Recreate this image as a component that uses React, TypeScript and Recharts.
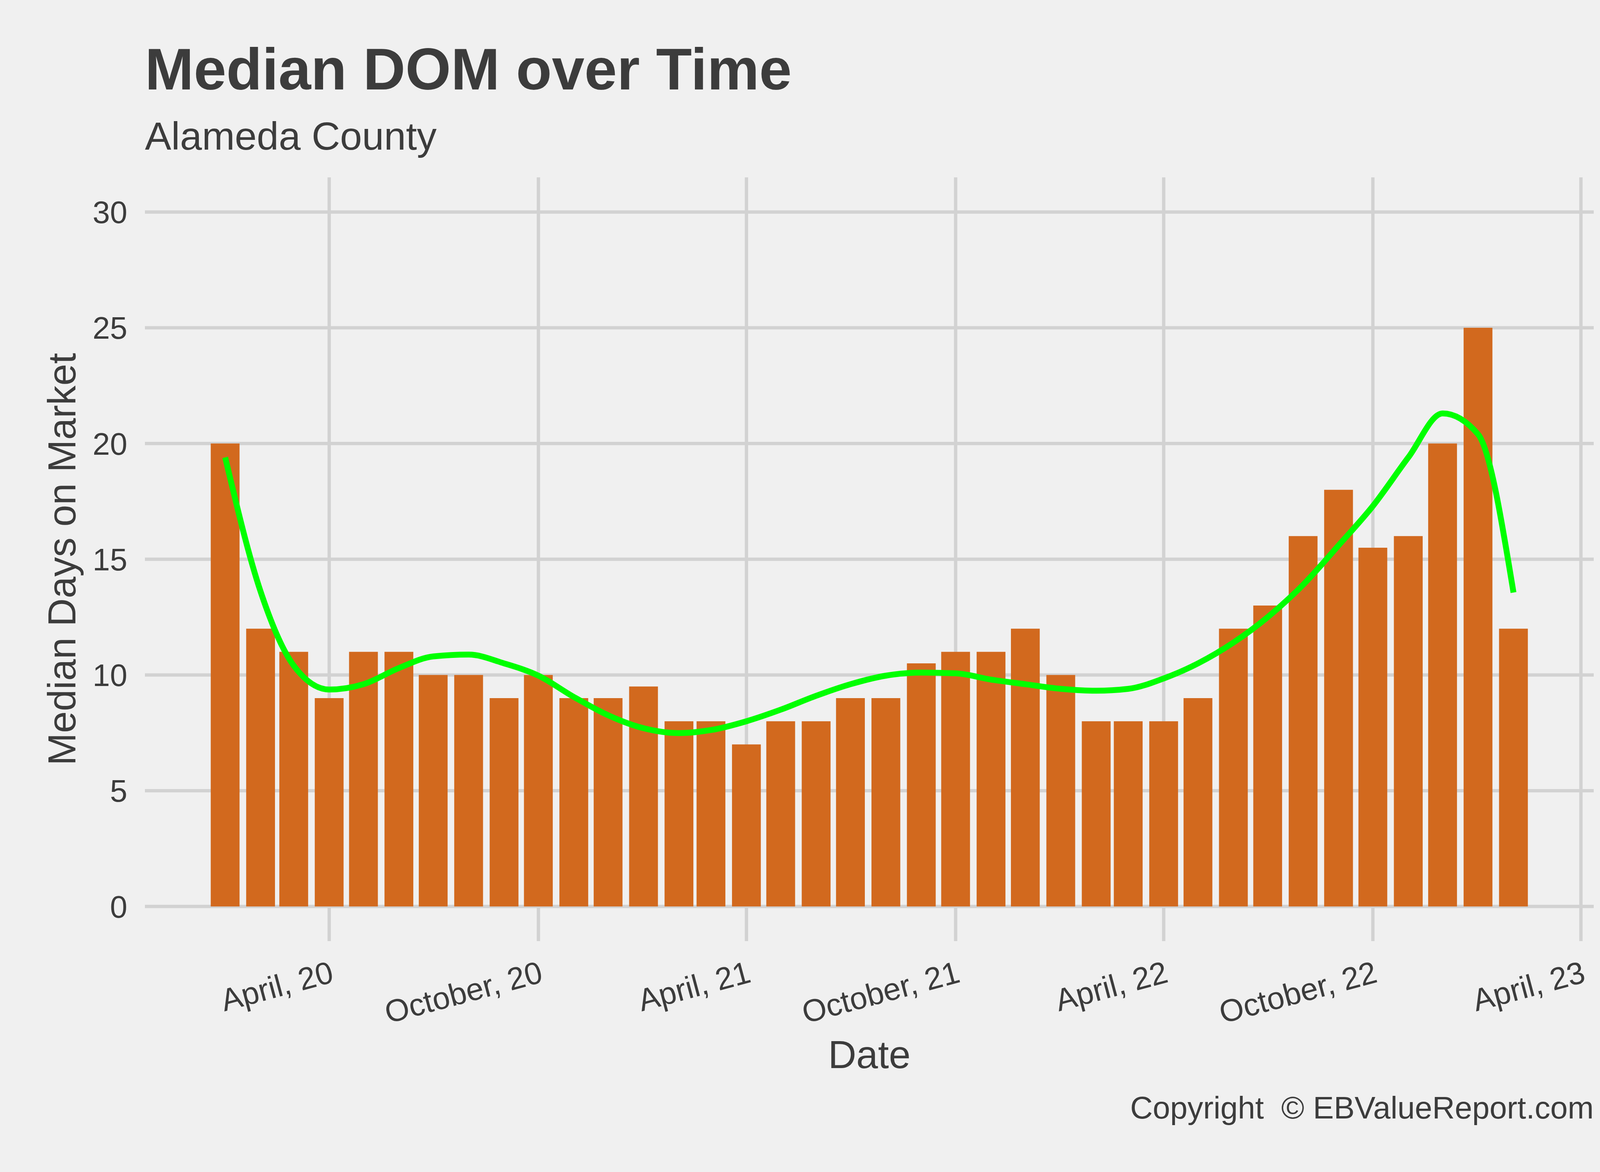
import React from "react";
import {ComposedChart, Bar, Line, XAxis, YAxis, CartesianGrid} from "recharts";

// monthly data, bars sit on the first day of each month
const months = [
    "2020-01", "2020-02", "2020-03", "2020-04", "2020-05", "2020-06", "2020-07", "2020-08", "2020-09", "2020-10", "2020-11", "2020-12",
    "2021-01", "2021-02", "2021-03", "2021-04", "2021-05", "2021-06", "2021-07", "2021-08", "2021-09", "2021-10", "2021-11", "2021-12",
    "2022-01", "2022-02", "2022-03", "2022-04", "2022-05", "2022-06", "2022-07", "2022-08", "2022-09", "2022-10", "2022-11", "2022-12",
    "2023-01", "2023-02",
];
const medianDom = [
    20, 12, 11, 9, 11, 11, 10, 10, 9, 10, 9, 9,
    9.5, 8, 8, 7, 8, 8, 9, 9, 10.5, 11, 11, 12,
    10, 8, 8, 8, 9, 12, 13, 16, 18, 15.5, 16, 20,
    25, 12,
];
// loess trend at each month
const smoothDom = [
    19.4, 13.6, 10.4, 9.37, 9.6, 10.3, 10.8, 10.88, 10.5, 9.97, 9.05, 8.26,
    7.7, 7.49, 7.62, 8.0, 8.5, 9.1, 9.6, 9.97, 10.1, 10.07, 9.8, 9.6,
    9.4, 9.32, 9.4, 9.85, 10.5, 11.4, 12.5, 13.9, 15.6, 17.3, 19.4, 21.3,
    20.4, 13.56,
];
const xTickMonths = ["2020-04", "2020-10", "2021-04", "2021-10", "2022-04", "2022-10", "2023-04"];
const xTickLabels = ["April, 20", "October, 20", "April, 21", "October, 21", "April, 22", "October, 22", "April, 23"];
const yTicks = [0, 5, 10, 15, 20, 25, 30];

const FONT = "'Liberation Sans', Arial, Helvetica, sans-serif";
const TEXT = "#3C3C3C";
const BG = "#F0F0F0";
const GRID = "#D2D2D2";

const W = 4200;
const H = 3000;
const M = {top: 454, right: 120, bottom: 0, left: 0};
const Y_AXIS_W = 371;
const X_AXIS_H = 591;

const dayOf = (ym: string) => {
    const [y, m] = ym.split("-").map(Number);
    return Date.UTC(y, m - 1, 1) / 86400000;
};

const data = months.map((m, i) => ({t: dayOf(m), dom: medianDom[i], trend: smoothDom[i]}));
const xTicks = xTickMonths.map(dayOf);

// bar width like ggplot: 0.9 of the shortest gap (28 days)
const barDays = 0.9 * 28;
const lo = data[0].t - barDays / 2;
const hi = data[data.length - 1].t + barDays / 2;
const pad = (hi - lo) * 0.05;
const xDomain = [lo - pad, hi + pad];
const yDomain = [-1.5, 31.5];
const plotW = W - M.left - M.right - Y_AXIS_W;
const barPx = barDays * plotW / (xDomain[1] - xDomain[0]);

const XTick = ({x, y, payload}: any) => {
    const i = xTicks.indexOf(payload.value);
    const ax = x + 15;
    const ay = y + 104;
    return (
        <text x={ax} y={ay} transform={`rotate(-15, ${ax}, ${ay})`} textAnchor="end"
              fontSize={80} fill={TEXT} fontFamily={FONT}>
            {xTickLabels[i]}
        </text>
    );
};

const YTitle = ({viewBox}: any) => {
    const cy = viewBox.y + viewBox.height / 2;
    return (
        <text x={193} y={cy} transform={`rotate(-90, 193, ${cy})`} textAnchor="middle"
              fontSize={100} fill={TEXT} fontFamily={FONT}>
            Median Days on Market
        </text>
    );
};

const XTitle = ({viewBox}: any) => (
    <text x={viewBox.x + viewBox.width / 2} y={2734} textAnchor="middle"
          fontSize={100} fill={TEXT} fontFamily={FONT}>
        Date
    </text>
);

// map a value through the axis scale (recharts 3 may wrap the d3 scale)
const toPx = (axis: any, v: number, fallback: number) => {
    const s = axis && axis.scale;
    if (typeof s === "function") return s(v);
    if (s && typeof s.map === "function") return s.map(v);
    return fallback;
};

// grid only at the tick values, not at the panel edges
const hLines = ({yAxis, offset}: any) => yTicks.map(v =>
    toPx(yAxis, v, offset.top + offset.height * (yDomain[1] - v) / (yDomain[1] - yDomain[0])));
const vLines = ({xAxis, offset}: any) => xTicks.map(v =>
    toPx(xAxis, v, offset.left + offset.width * (v - xDomain[0]) / (xDomain[1] - xDomain[0])));

export default function App() {
    return (
        <div style={{position: "relative", width: W, height: H, background: BG}}>
            <style>{"html, body { margin: 0; padding: 0; background: " + BG + "; }"}</style>
            <ComposedChart width={W} height={H} data={data} margin={M}>
                <CartesianGrid stroke={GRID} strokeWidth={8.5}
                               horizontalCoordinatesGenerator={hLines}
                               verticalCoordinatesGenerator={vLines}/>
                <XAxis type="number" dataKey="t" domain={xDomain} ticks={xTicks} interval={0}
                       axisLine={false} tickLine={false} tickSize={0} tickMargin={0}
                       height={X_AXIS_H} tick={<XTick/>} label={<XTitle/>} allowDataOverflow/>
                <YAxis type="number" domain={yDomain} ticks={yTicks} interval={0}
                       axisLine={false} tickLine={false} tickSize={0} tickMargin={45} width={Y_AXIS_W}
                       tick={{fontSize: 80, fill: TEXT, fontFamily: FONT}} label={<YTitle/>} allowDataOverflow/>
                <Bar dataKey="dom" fill="#D2691E" barSize={barPx} isAnimationActive={false}/>
                <Line dataKey="trend" type="monotone" stroke="#00FF00" strokeWidth={15}
                      dot={false} activeDot={false} isAnimationActive={false}/>
            </ComposedChart>
            <svg width={W} height={H} style={{position: "absolute", left: 0, top: 0, pointerEvents: "none"}}>
                <text x={371} y={229} fontSize={150} fontWeight="bold" fill={TEXT} fontFamily={FONT}>
                    Median DOM over Time
                </text>
                <text x={371} y={383} fontSize={101} fill={TEXT} fontFamily={FONT}>
                    Alameda County
                </text>
                <text x={4080} y={2863} fontSize={80} fill={TEXT} fontFamily={FONT} textAnchor="end"
                      style={{whiteSpace: "pre"}}>
                    {"Copyright  \u00A9 EBValueReport.com"}
                </text>
            </svg>
        </div>
    );
}
